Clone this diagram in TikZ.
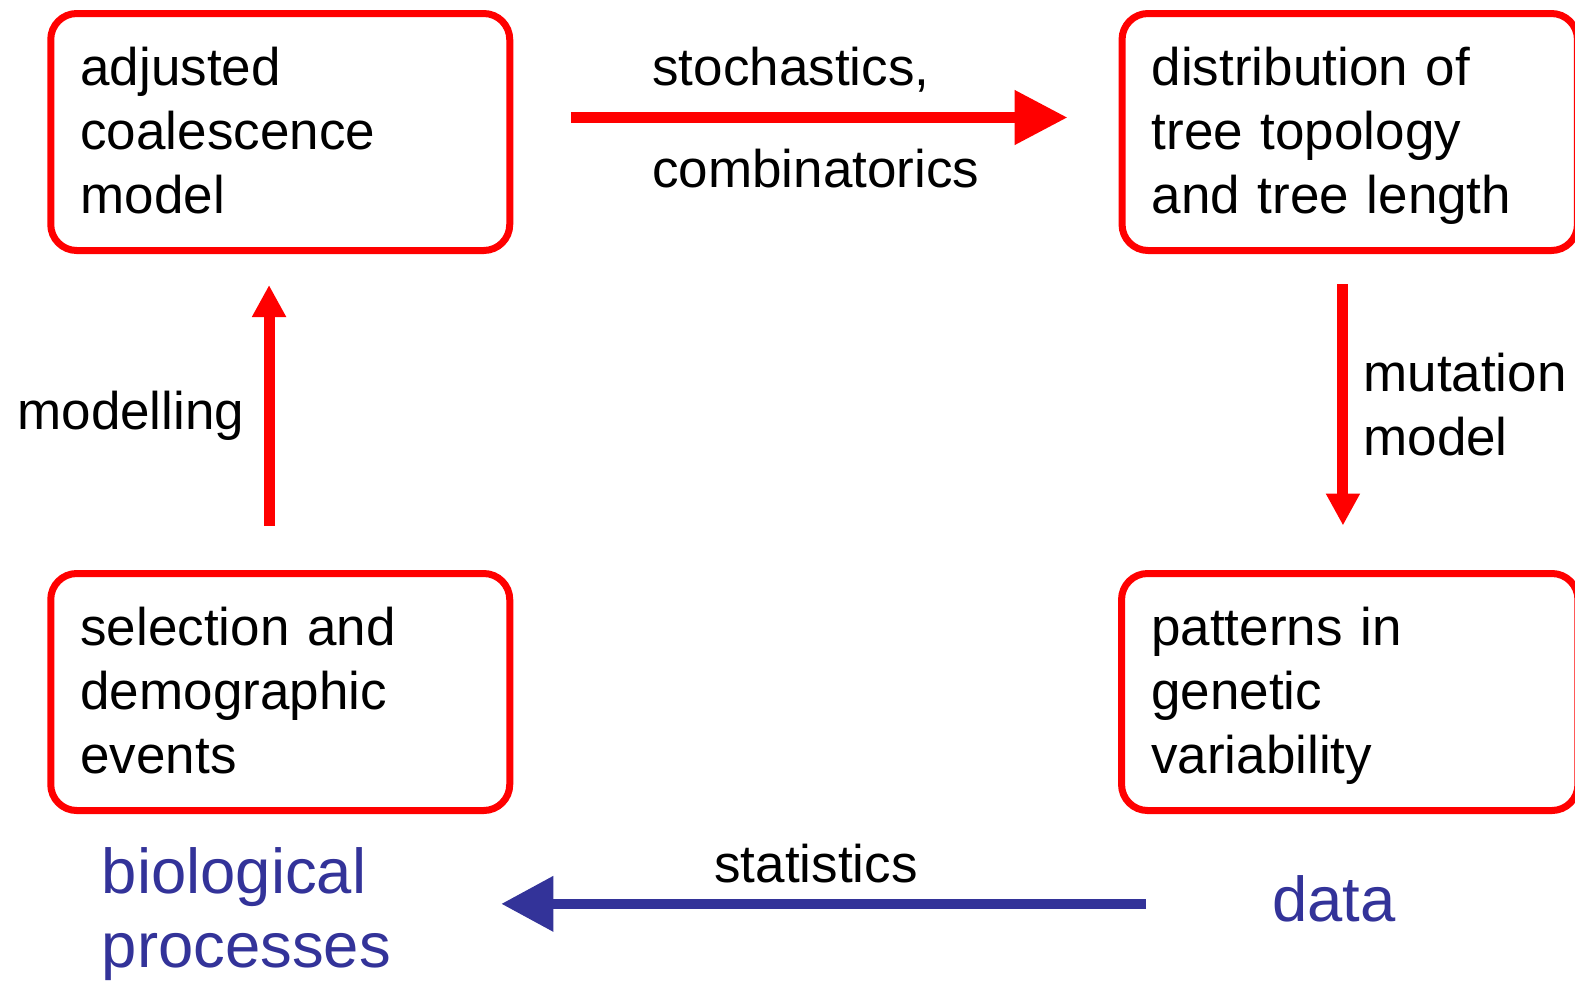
\documentclass[tikz,border=0pt]{standalone}
\usepackage{fontspec}
\setmainfont{Liberation Sans}
\usetikzlibrary{arrows.meta}
\definecolor{boxred}{RGB}{255,0,0}
\definecolor{procblue}{RGB}{51,51,153}

\begin{document}
\begin{tikzpicture}[x=0.5pt,y=-0.5pt,
  stagebox/.style={draw=boxred, line width=3.5pt, rounded corners=13pt,
    inner xsep=14.85pt, inner ysep=0pt, align=left, minimum height=118.5pt,
    font=\fontsize{26.5}{31.9}\selectfont,
    execute at begin node={\rule{0pt}{24pt}},
    execute at end node={\rule[-6.8pt]{0pt}{6.8pt}}},
  steplabel/.style={inner sep=0pt, anchor=base west, align=left,
    font=\fontsize{26.5}{31.9}\selectfont},
  levellabel/.style={inner sep=0pt, anchor=base west, align=left,
    text=procblue, font=\fontsize{31.7}{36.75}\selectfont},
  redarrow/.style={draw=boxred, line width=5.5pt,
    -{Triangle[length=16pt,width=16pt]}},
  widearrow/.style={draw=boxred, line width=5.5pt,
    -{Triangle[length=26.5pt,width=26pt]}},
  bluearrow/.style={draw=procblue, line width=5pt,
    -{Triangle[length=26pt,width=26.5pt]}}]

\useasboundingbox (0,0) rectangle (1575,981);
\clip (0,0) rectangle (1575,981);

% the four stages of the cycle
\node[stagebox, text width=199.8pt] (coal) at (280.25,132)
  {adjusted\\coalescence\\model};
\node[stagebox, text width=198pt] (tree) at (1349.75,132)
  {distribution of\\tree topology\\and tree length};
\node[stagebox, text width=199.8pt] (sel) at (280.25,692)
  {selection and\\demographic\\events};
\node[stagebox, text width=198.5pt] (pat) at (1349.75,692)
  {patterns in\\genetic\\variability};

% labels of the steps (multi-line nodes sit on their last baseline)
\node[steplabel, font=\fontsize{26.5}{50.75}\selectfont] (stoch) at (652,187)
  {stochastics,\\combinatorics};
\node[steplabel] (mut) at (1363,455) {mutation\\model};
\node[steplabel] (modl) at (17,429) {modelling};
\node[steplabel] (stat) at (714,882) {statistics};

% the two levels
\node[levellabel] (bio) at (101.5,967) {biological\\processes};
\node[levellabel] (data) at (1272,921) {data};

% connectors
\draw[widearrow, shorten <=28.85pt, shorten >=25.5pt]
  ([yshift=7.25pt]coal.east) -- ([yshift=7.25pt]coal.east -| tree.west);
\draw[redarrow, shorten <=15pt, shorten >=22.25pt]
  ([xshift=-3.4pt]tree.south) -- ([xshift=-3.4pt]tree.south |- pat.north);
\draw[redarrow, shorten <=22.25pt, shorten >=15.5pt]
  ([xshift=-5.6pt]sel.north) -- ([xshift=-5.6pt]sel.north |- coal.south);
\draw[bluearrow, shorten <=63pt, shorten >=55pt]
  ([yshift=-2.75pt]data.west) -- ([yshift=-2.75pt]data.west -| bio.east);
\end{tikzpicture}
\end{document}
